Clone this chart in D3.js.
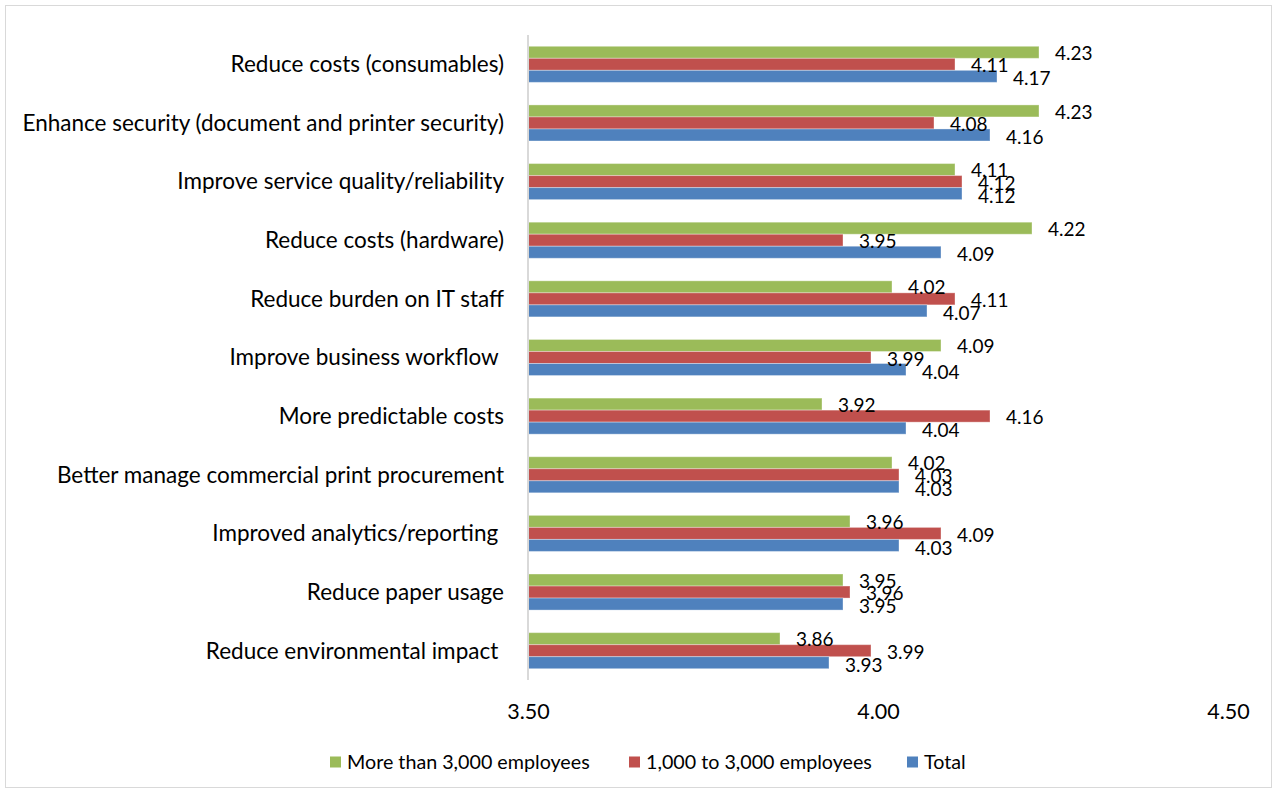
<!DOCTYPE html>
<html><head><meta charset="utf-8">
<script src="https://cdn.jsdelivr.net/npm/d3@7"></script>
<style>body{margin:0;background:#fff}svg{display:block}text{font-family:Lato,"Noto Sans",sans-serif;white-space:pre}</style>
</head><body><svg id="c" width="1274" height="791"></svg>
<script>
const categories = ["Reduce costs (consumables)","Enhance security (document and printer security)","Improve service quality/reliability","Reduce costs (hardware)","Reduce burden on IT staff","Improve business workflow ","More predictable costs","Better manage commercial print procurement","Improved analytics/reporting ","Reduce paper usage","Reduce environmental impact "];
const seriesNames = ["More than 3,000 employees","1,000 to 3,000 employees","Total"];
const seriesColors = ["#9BBB59","#C0504D","#4F81BD"];
const moreThan3000 = [4.23,4.23,4.11,4.22,4.02,4.09,3.92,4.02,3.96,3.95,3.86];
const from1000to3000 = [4.11,4.08,4.12,3.95,4.11,3.99,4.16,4.03,4.09,3.96,3.99];
const total = [4.17,4.16,4.12,4.09,4.07,4.04,4.04,4.03,4.03,3.95,3.93];
const xTicks = [3.5,4.0,4.5];

const series=[moreThan3000,from1000to3000,total];
const svg=d3.select("#c");
svg.append("rect").attr("x",5.5).attr("y",5.5).attr("width",1266).attr("height",782).attr("fill","none").attr("stroke","#d9d9d9");
const pL=528,pR=1228,pT=35,pB=680;
const x=d3.scaleLinear().domain([3.5,4.5]).range([pL,pR]);
const y=d3.scaleBand().domain(categories).range([pT,pB]).paddingInner(0.385).paddingOuter(0.1925);
const ys=d3.scaleBand().domain([0,1,2]).range([0,y.bandwidth()]);
const g=svg.append("g");
series.forEach((vals,si)=>{
  g.selectAll(null).data(vals).enter().append("rect")
   .attr("x",x(3.5)).attr("y",(d,i)=>y(categories[i])+ys(si))
   .attr("width",d=>x(d)-x(3.5)).attr("height",ys.bandwidth())
   .attr("fill",seriesColors[si]).attr("stroke","rgba(255,255,255,0.35)").attr("stroke-width",1);
});
series.forEach((vals,si)=>{
  g.selectAll(null).data(vals).enter().append("text")
   .attr("x",d=>x(d)+16).attr("y",(d,i)=>y(categories[i])+ys(si)+ys.bandwidth()/2+[1,1.5,2.5][si])
   .attr("dy","0.35em").attr("font-size",19).attr("fill","#000").text(d=>d.toFixed(2));
});
svg.append("line").attr("x1",pL).attr("x2",pL).attr("y1",pT).attr("y2",pB).attr("stroke","#d9d9d9").attr("stroke-width",2);
svg.append("g").selectAll("text").data(categories).enter().append("text")
  .attr("x",pL-24).attr("y",d=>y(d)+y.bandwidth()/2).attr("dy","0.35em")
  .attr("text-anchor","end").attr("font-size",22.5).attr("fill","#000").text(d=>d);
const xa=svg.append("g").attr("transform",`translate(0,${pB})`)
  .call(d3.axisBottom(x).tickValues(xTicks).tickFormat(d3.format(".2f")).tickSize(0).tickPadding(24));
xa.select(".domain").remove();
xa.selectAll("text").attr("font-size",21.5).attr("fill","#000").attr("font-family","Lato, sans-serif");
const lg=svg.append("g").attr("transform","translate(0,762)");
const lx=[330,629,907];
seriesNames.forEach((n,i)=>{
  lg.append("rect").attr("x",lx[i]).attr("y",-5.5).attr("width",11).attr("height",11).attr("fill",seriesColors[i]);
  lg.append("text").attr("x",lx[i]+17).attr("y",0).attr("dy","0.35em").attr("font-size",19.7).attr("fill","#000").text(n);
});
</script></body></html>
